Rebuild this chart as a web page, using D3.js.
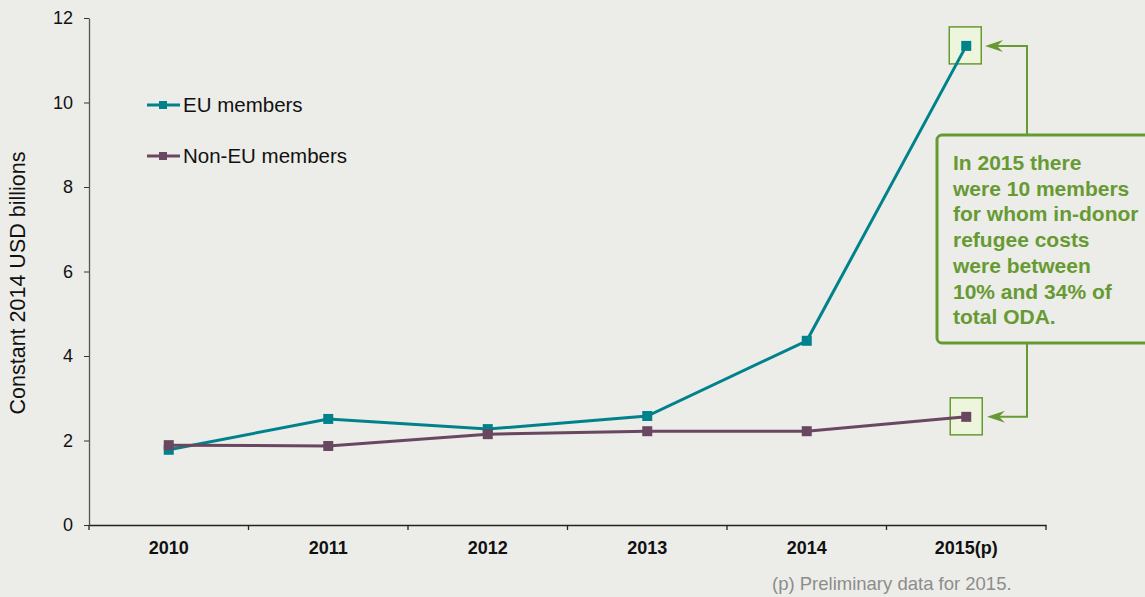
<!DOCTYPE html>
<html><head><meta charset="utf-8">
<script src="https://cdn.jsdelivr.net/npm/d3@7"></script>
<style>
html,body{margin:0;padding:0;background:#ecece8;}
svg{display:block;font-family:"Liberation Sans",Arial,Helvetica,sans-serif;}
</style></head>
<body>
<svg id="chart" width="1145" height="597"></svg>
<script>
const categories = ["2010","2011","2012","2013","2014","2015(p)"];
const euValues = [1.78, 2.51, 2.27, 2.58, 4.36, 11.34];
const nonEuValues = [1.89, 1.87, 2.15, 2.22, 2.22, 2.56];
const yTicks = [0,2,4,6,8,10,12];
const seriesNames = ["EU members","Non-EU members"];
const seriesColors = ["#00828c","#6a4761"];
const annotationLines = ["In 2015 there","were 10 members","for whom in-donor","refugee costs","were between","10% and 34% of","total ODA."];
const green = "#679a33";

const svg = d3.select("#chart");
const m = {left:89, right:1046, top:18, bottom:525};
const x = d3.scaleBand().domain(categories).range([m.left, m.right]).paddingInner(0).paddingOuter(0);
const y = d3.scaleLinear().domain([0,12]).range([m.bottom, m.top]);
const cx = d => x(d) + x.bandwidth()/2;

// Y axis
const ya = svg.append("g").attr("transform",`translate(${m.left},0)`)
  .call(d3.axisLeft(y).tickValues(yTicks).tickSize(5).tickPadding(11).tickSizeOuter(0));
ya.select(".domain").attr("stroke","#555").attr("stroke-width",1.3);
ya.selectAll(".tick line").attr("stroke","#333");
ya.selectAll(".tick text").attr("font-size",18).attr("fill","#111").attr("font-family","Liberation Sans, Arial, sans-serif");

// X axis
const xa = svg.append("g").attr("transform",`translate(0,${m.bottom})`)
  .call(d3.axisBottom(x).tickSize(0).tickPadding(16));
xa.select(".domain").attr("stroke","#222").attr("stroke-width",1.3);
xa.selectAll(".tick text").attr("font-size",18).attr("font-weight","bold").attr("fill","#111").attr("font-family","Liberation Sans, Arial, sans-serif");
// band boundary ticks
const bounds = categories.map(c => x(c)).concat([m.right]);
svg.append("g").selectAll("line").data(bounds).join("line")
  .attr("x1",d=>d).attr("x2",d=>d).attr("y1",m.bottom).attr("y2",m.bottom+5)
  .attr("stroke","#222").attr("stroke-width",1.3);

// Y label
svg.append("text").attr("transform","translate(25,283) rotate(-90)")
  .attr("text-anchor","middle").attr("font-size",21.5).attr("fill","#111")
  .text("Constant 2014 USD billions");

// highlight boxes
const lastCat = categories[categories.length-1];
[[euValues, 0],[nonEuValues, 1]].forEach(([vals,i])=>{
  const v = vals[vals.length-1];
  svg.append("rect").attr("x",cx(lastCat)-17+(i?1:0)).attr("y",y(v)-19).attr("width",32).attr("height",37)
    .attr("fill","#eef5dd").attr("stroke",green).attr("stroke-width",1.5);
});

// lines
const line = d3.line().x((d,i)=>cx(categories[i])).y(d=>y(d));
[euValues, nonEuValues].forEach((vals,i)=>{
  svg.append("path").datum(vals).attr("d",line).attr("fill","none")
    .attr("stroke",seriesColors[i]).attr("stroke-width",3);
});
[euValues, nonEuValues].forEach((vals,i)=>{
  svg.append("g").selectAll("rect").data(vals).join("rect")
    .attr("x",(d,j)=>cx(categories[j])-5).attr("y",d=>y(d)-5)
    .attr("width",10).attr("height",10).attr("fill",seriesColors[i]);
});

// legend
seriesNames.forEach((n,i)=>{
  const ly = 105 + i*51;
  svg.append("line").attr("x1",147).attr("x2",180).attr("y1",ly).attr("y2",ly)
    .attr("stroke",seriesColors[i]).attr("stroke-width",3);
  svg.append("rect").attr("x",159).attr("y",ly-4).attr("width",8).attr("height",8).attr("fill",seriesColors[i]);
  svg.append("text").attr("x",183).attr("y",ly+7).attr("font-size",20.5).attr("fill","#111").text(n);
});

// annotation box
svg.append("rect").attr("x",937).attr("y",135).attr("width",260).attr("height",208)
  .attr("rx",5).attr("fill","none").attr("stroke",green).attr("stroke-width",3);
const ann = svg.append("text").attr("font-size",21).attr("font-weight","bold").attr("fill",green);
annotationLines.forEach((t,i)=>{
  ann.append("tspan").attr("x",953).attr("y",170 + i*25.7).text(t);
});

// connectors
const connX = 1027;
const topY = y(euValues[euValues.length-1]);
const botY = y(nonEuValues[nonEuValues.length-1]);
svg.append("path").attr("d",`M${connX},135 V${topY} H${995}`).attr("fill","none").attr("stroke",green).attr("stroke-width",2);
svg.append("path").attr("d",`M${connX},343 V${botY} H${997}`).attr("fill","none").attr("stroke",green).attr("stroke-width",2);
function arrow(tipX, tipY){
  svg.append("path").attr("d",`M${tipX},${tipY} L${tipX+18},${tipY-6} L${tipX+12},${tipY} L${tipX+18},${tipY+6} Z`).attr("fill",green);
}
arrow(985, topY);
arrow(987, botY);

// footnote
svg.append("text").attr("x",772).attr("y",590).attr("font-size",18.5).attr("fill","#8c8c8c")
  .text("(p) Preliminary data for 2015.");
</script>
</body></html>
